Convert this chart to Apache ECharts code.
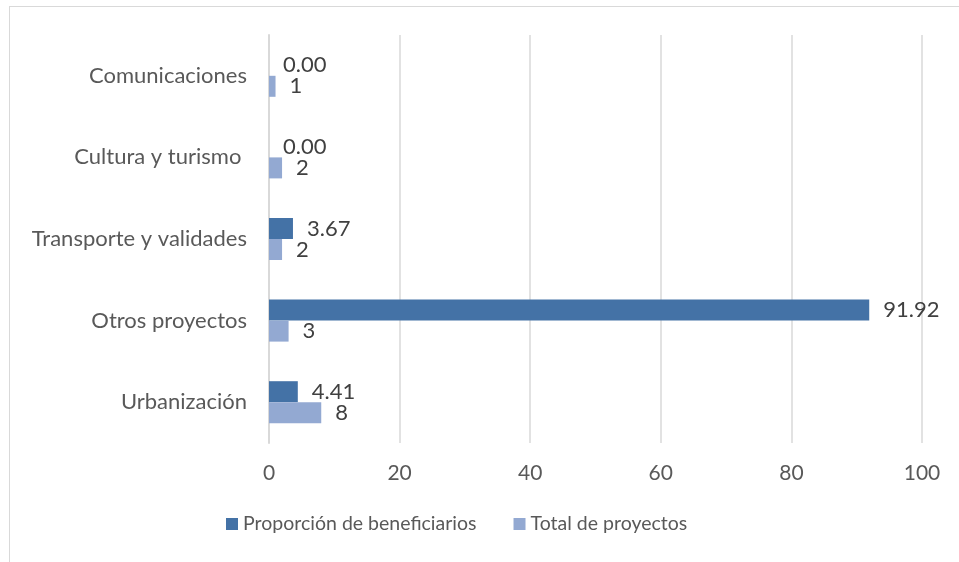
<!DOCTYPE html>
<html>
<head>
<meta charset="utf-8">
<script src="https://cdn.jsdelivr.net/npm/echarts@6/dist/echarts.min.js"></script>
<style>
  html, body { margin: 0; padding: 0; background: #fff; }
  #frame { position: absolute; left: 9px; top: 6px; width: 1000px; height: 600px; border-left: 1px solid #d9d9d9; border-top: 1px solid #d9d9d9; }
  #main { position: absolute; left: 0; top: 0; width: 959px; height: 562px; }
</style>
</head>
<body>
<div id="frame"></div>
<div id="main"></div>
<script>
  // categorias de abajo hacia arriba
  var categories = ['Urbanización', 'Otros proyectos', 'Transporte y validades', 'Cultura y turismo ', 'Comunicaciones']
  var beneficiarios = [4.41, 91.92, 3.67, 0.00, 0.00]
  var proyectos = [8, 3, 2, 2, 1]
  var xTicks = [0, 20, 40, 60, 80, 100]

  var font = 'Lato, "Open Sans", sans-serif'
  var chart = echarts.init(document.getElementById('main'))
  var labelStyle = {
    show: true,
    position: 'right',
    distance: 14,
    color: '#404040',
    fontSize: 22,
    fontFamily: font
  }
  var option = {
    animation: false,
    grid: {
      top: 35,
      bottom: 119,
      left: 269,
      right: 37,
      containLabel: false
    },
    legend: {
      bottom: 23,
      left: 221,
      itemWidth: 12,
      itemHeight: 12,
      itemGap: 37,
      icon: 'rect',
      textStyle: { color: '#595959', fontSize: 19.5, fontFamily: font },
      data: ['Proporción de beneficiarios', 'Total de proyectos']
    },
    xAxis: {
      type: 'value',
      min: xTicks[0],
      max: xTicks[xTicks.length - 1],
      interval: 20,
      axisLine: { show: false },
      axisTick: { show: false },
      splitLine: { lineStyle: { color: '#d9d9d9', width: 1.5 } },
      axisLabel: { color: '#595959', fontSize: 21, fontFamily: font, margin: 20 }
    },
    yAxis: {
      type: 'category',
      data: categories,
      axisLine: { show: true, lineStyle: { color: '#d9d9d9', width: 2 } },
      axisTick: { show: false },
      axisLabel: { color: '#595959', fontSize: 22, fontFamily: font, margin: 22 }
    },
    series: [
      {
        name: 'Proporción de beneficiarios',
        type: 'bar',
        data: beneficiarios,
        color: '#4472a6',
        barWidth: 21,
        barGap: '0%',
        label: Object.assign({}, labelStyle, {
          formatter: function (p) { return p.value.toFixed(2) }
        })
      },
      {
        name: 'Total de proyectos',
        type: 'bar',
        data: proyectos,
        color: '#93a9d2',
        barWidth: 21,
        barGap: '0%',
        label: Object.assign({}, labelStyle, { formatter: '{c}' })
      }
    ]
  }
  chart.setOption(option)
</script>
</body>
</html>
